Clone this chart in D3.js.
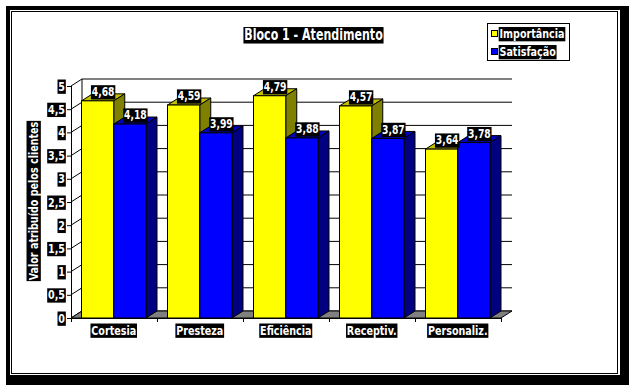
<!DOCTYPE html>
<html>
<head>
<meta charset="utf-8">
<script src="https://cdn.jsdelivr.net/npm/d3@7"></script>
<style>
  body { margin: 0; background: #fff; }
  text { font-family: "DejaVu Sans Condensed", "Liberation Sans", sans-serif; font-weight: bold; fill: #fff; }
</style>
</head>
<body>
<div id="chart"></div>
<script>
const categories = ["Cortesia", "Presteza", "Eficiência", "Receptiv.", "Personaliz."];
const seriesNames = ["Importância", "Satisfação"];
const importancia = [4.68, 4.59, 4.79, 4.57, 3.64];
const satisfacao = [4.18, 3.99, 3.88, 3.87, 3.78];
const yTicks = [0, 0.5, 1, 1.5, 2, 2.5, 3, 3.5, 4, 4.5, 5];

const W = 629, H = 385;
const dx = 11, dy = 7; // 3d depth offset
const squeeze = 0.82; // narrow the font horizontally

const colors = {
  "Importância": { front: "#ffff00", top: "#c0c000", side: "#808000" },
  "Satisfação": { front: "#0000ff", top: "#0000c0", side: "#000080" },
};

const svg = d3.select("#chart").append("svg")
  .attr("width", W).attr("height", H);

// chart frame with shadow
svg.append("rect").attr("x", 6).attr("y", 6).attr("width", W - 6).attr("height", H - 6).attr("fill", "#000");
svg.append("rect").attr("x", 10).attr("y", 10).attr("width", 610).attr("height", 365).attr("fill", "#fff");
svg.append("rect").attr("x", 11.5).attr("y", 11.5).attr("width", 606).attr("height", 362)
  .attr("fill", "none").attr("stroke", "#000");

const x = d3.scaleBand().domain(categories).range([71, 501]);
const xs = d3.scaleBand().domain(seriesNames).range([10.5, 75]);
const y = d3.scaleLinear().domain([0, 5]).range([318, 86]);

const g = svg.append("g");

// label with black background box
function boxLabel(parent, tx, ty, str, size, anchor, rotate) {
  const lg = parent.append("g")
    .attr("transform", `translate(${tx},${ty})` + (rotate ? ` rotate(${rotate})` : "") + ` scale(${squeeze},1)`);
  const bg = lg.append("rect").attr("fill", "#000");
  const t = lg.append("text")
    .attr("text-anchor", anchor || "middle")
    .attr("dy", "0.35em")
    .style("font-size", size + "px")
    .text(str);
  const b = t.node().getBBox();
  bg.attr("x", b.x - 1).attr("y", b.y + 1).attr("width", b.width + 2).attr("height", b.height - 1);
  return lg;
}

// left wall and back wall gridlines
const x0 = x.range()[0], x1 = x.range()[1];
yTicks.forEach(v => {
  g.append("line")
    .attr("x1", x0).attr("y1", y(v)).attr("x2", x0 + dx).attr("y2", y(v) - dy)
    .attr("stroke", "#000");
  g.append("line")
    .attr("x1", x0 + dx).attr("y1", y(v) - dy).attr("x2", x1 + dx).attr("y2", y(v) - dy)
    .attr("stroke", "#000");
});
g.append("line")
  .attr("x1", x0 + dx).attr("y1", y(5) - dy).attr("x2", x0 + dx).attr("y2", y(0) - dy)
  .attr("stroke", "#000");

// floor
g.append("path")
  .attr("d", `M${x0},${y(0)}L${x1},${y(0)}L${x1 + dx},${y(0) - dy}L${x0 + dx},${y(0) - dy}Z`)
  .attr("fill", "#808080").attr("stroke", "#000");

// y axis
g.append("line").attr("x1", x0 + 0.5).attr("x2", x0 + 0.5).attr("y1", y(0)).attr("y2", y(5)).attr("stroke", "#000");
yTicks.forEach(v => {
  g.append("line").attr("x1", x0 - 4).attr("x2", x0).attr("y1", y(v) + 0.5).attr("y2", y(v) + 0.5).attr("stroke", "#000");
  boxLabel(g, 65, y(v), String(v).replace(".", ","), 13, "end");
});

// x axis
g.append("line").attr("x1", x0).attr("x2", x1).attr("y1", y(0) + 0.5).attr("y2", y(0) + 0.5).attr("stroke", "#000");
d3.range(categories.length + 1).forEach(i => {
  const tx = x0 + i * x.bandwidth() + 0.5;
  g.append("line").attr("x1", tx).attr("x2", tx).attr("y1", y(0)).attr("y2", y(0) + 4).attr("stroke", "#000");
});

// bars
const data = categories.map((c, i) => ({ cat: c, values: [importancia[i], satisfacao[i]] }));
const bars = g.append("g");
data.forEach(d => {
  d.values.forEach((v, j) => {
    const s = seriesNames[j];
    const bx0 = x(d.cat) + xs(s), bx1 = bx0 + xs.bandwidth();
    const yt = y(v), yb = y(0);
    const c = colors[s];
    bars.append("path")
      .attr("d", `M${bx0},${yt}L${bx1},${yt}L${bx1 + dx},${yt - dy}L${bx0 + dx},${yt - dy}Z`)
      .attr("fill", c.top).attr("stroke", "#000");
    bars.append("path")
      .attr("d", `M${bx1},${yt}L${bx1 + dx},${yt - dy}L${bx1 + dx},${yb - dy}L${bx1},${yb}Z`)
      .attr("fill", c.side).attr("stroke", "#000");
    bars.append("rect")
      .attr("x", bx0).attr("y", yt).attr("width", bx1 - bx0).attr("height", yb - yt)
      .attr("fill", c.front).attr("stroke", "#000");
  });
});

// value labels
data.forEach(d => {
  d.values.forEach((v, j) => {
    const s = seriesNames[j];
    const cx = x(d.cat) + xs(s) + xs.bandwidth() / 2 + dx / 2;
    boxLabel(g, cx, y(v) - 9, v.toFixed(2).replace(".", ","), 12.5, "middle");
  });
});

// category labels
categories.forEach(c => {
  boxLabel(g, x(c) + xs.range()[0] + xs.bandwidth(), 330, c, 13, "middle");
});

// y axis title
boxLabel(svg, 33, 201, "Valor atribuído pelos clientes", 13, "middle", -90);

// title
boxLabel(svg, 313.5, 35, "Bloco 1 - Atendimento", 15, "middle");

// legend
const lg = svg.append("g");
lg.append("rect").attr("x", 487.5).attr("y", 23.5).attr("width", 82).attr("height", 37)
  .attr("fill", "#fff").attr("stroke", "#000");
seriesNames.forEach((s, i) => {
  const ly = 33.5 + i * 18;
  lg.append("rect").attr("x", 491.5).attr("y", ly - 3).attr("width", 6).attr("height", 6)
    .attr("fill", colors[s].front).attr("stroke", "#000");
  boxLabel(lg, 499.5, ly, s, 13, "start");
});
</script>
</body>
</html>
